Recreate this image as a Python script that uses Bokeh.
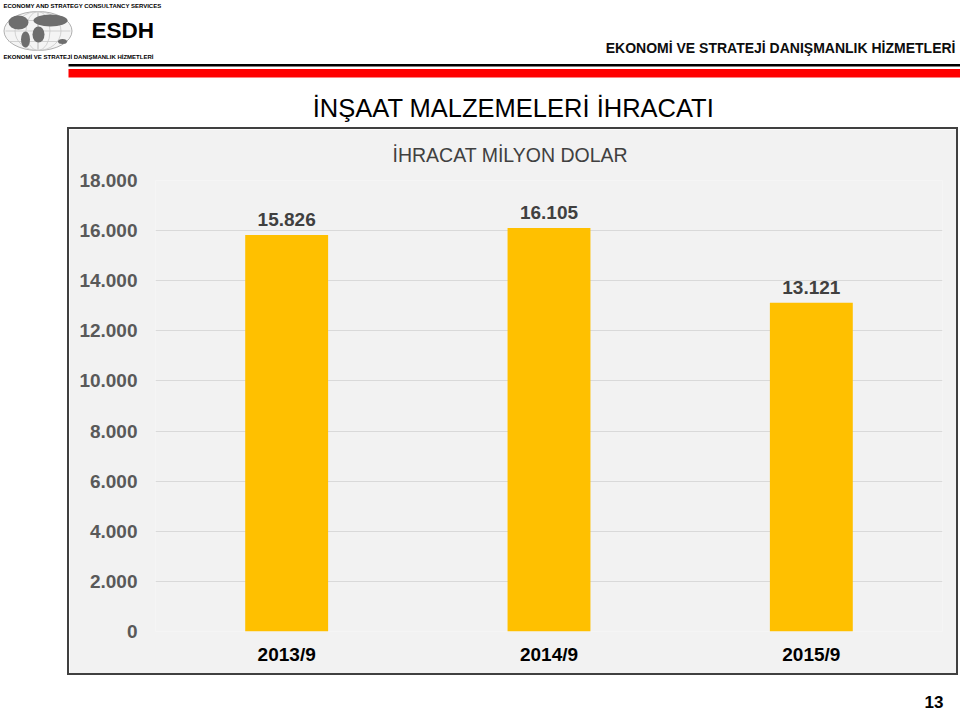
from bokeh.plotting import figure
from bokeh.layouts import column, row
from bokeh.models import (ColumnDataSource, LabelSet, FactorRange, Range1d, FixedTicker, Spacer)
from bokeh.core.properties import value
from bokeh.embed import file_html
from bokeh.resources import INLINE

# ---- data ----
categories = ["2013/9", "2014/9", "2015/9"]
values = [15826, 16105, 13121]
value_labels = ["15.826", "16.105", "13.121"]
y_ticks = [0, 2000, 4000, 6000, 8000, 10000, 12000, 14000, 16000, 18000]
y_tick_labels = ["0", "2.000", "4.000", "6.000", "8.000", "10.000", "12.000", "14.000", "16.000", "18.000"]

FONT = "Liberation Sans"
BORDER = "#404040"


def deco_figure(w, h):
    f = figure(width=w, height=h, x_range=Range1d(0, w), y_range=Range1d(h, 0),
               x_axis_type=None, y_axis_type=None, output_backend="svg",
               toolbar_location=None, min_border=0, outline_line_color=None,
               border_fill_color="white", background_fill_color="white")
    f.grid.visible = False
    return f


def put_text(f, x, y, t, size, style="normal", color="#000000", align="left", baseline="middle"):
    f.text(x=[x], y=[y], text=[t], text_font=value(FONT), text_font_size=value(size),
           text_font_style=value(style), text_color=color, text_align=align,
           text_baseline=baseline)


# ---------------- header ----------------
header = deco_figure(960, 127)
header.quad(left=[68], right=[960], top=[63.5], bottom=[66], fill_color="#000000", line_color=None)
header.quad(left=[68], right=[960], top=[68.5], bottom=[77], fill_color="#ff0000", line_color=None)
put_text(header, 955, 47, "EKONOMİ VE STRATEJİ DANIŞMANLIK HİZMETLERİ", "14px", "bold",
         "#0d0d0d", "right")
# logo
put_text(header, 3, 5, "ECONOMY  AND  STRATEGY CONSULTANCY SERVICES", "6px", "bold")
put_text(header, 91, 30, "ESDH", "22.5px", "bold")
put_text(header, 3, 56, "EKONOMİ   VE  STRATEJİ  DANIŞMANLIK  HİZMETLERİ", "6px", "bold")
header.ellipse(x=[37.5], y=[30.5], width=[68], height=[39], fill_color="#f4f4f4",
               line_color="#b0b0b0", line_width=1)
header.ellipse(x=[37.5, 37.5, 37.5], y=[30.5, 30.5, 30.5], width=[46, 24, 1], height=[39, 39, 39],
               fill_color=None, line_color="#c8c8c8", line_width=0.8)
header.segment(x0=[8, 5, 8], y0=[20, 30.5, 41], x1=[67, 70, 67], y1=[20, 30.5, 41],
               line_color="#c8c8c8", line_width=0.8)
header.ellipse(x=[18, 25, 50, 38, 62], y=[22, 39, 20, 34, 41], width=[20, 9, 34, 12, 9],
               height=[14, 16, 12, 16, 5], fill_color="#6e6e6e", line_color=None)
# main title
put_text(header, 513, 107, "İNŞAAT MALZEMELERİ İHRACATI", "25.5px", align="center")

# ---------------- chart ----------------
chart = figure(width=887, height=544,
               x_range=FactorRange(*categories, range_padding=0),
               y_range=Range1d(0, 18000),
               output_backend="svg", toolbar_location=None,
               min_border_left=86, min_border_right=14,
               min_border_top=51, min_border_bottom=42,
               border_fill_color="#f2f2f2", background_fill_color="#f2f2f2",
               outline_line_color=None, title="İHRACAT MİLYON DOLAR")
chart.title.text_font = FONT
chart.title.text_font_size = "19.5px"
chart.title.text_font_style = "normal"
chart.title.text_color = "#404040"
chart.title.align = "left"
chart.title.offset = 237
chart.title.vertical_align = "top"
chart.title.standoff = 26

src = ColumnDataSource(dict(cat=categories, val=values, lbl=value_labels))
chart.vbar(x="cat", top="val", width=0.316, source=src, fill_color="#ffc000", line_color=None)
chart.add_layout(LabelSet(x="cat", y="val", text="lbl", source=src, y_offset=9,
                          text_align="center", text_baseline="alphabetic",
                          text_font=value(FONT), text_font_size="19px", text_font_style="bold",
                          text_color="#404040"))

chart.xgrid.visible = False
chart.ygrid.ticker = FixedTicker(ticks=y_ticks)
chart.ygrid.grid_line_color = "#d9d9d9"
chart.ygrid.grid_line_width = 1

chart.yaxis.ticker = FixedTicker(ticks=y_ticks)
chart.yaxis.major_label_overrides = {t: l for t, l in zip(y_ticks, y_tick_labels)}
for ax in (chart.xaxis[0], chart.yaxis[0]):
    ax.axis_line_color = None
    ax.major_tick_line_color = None
    ax.minor_tick_line_color = None
    ax.major_tick_in = 0
    ax.major_tick_out = 0
    ax.minor_tick_in = 0
    ax.minor_tick_out = 0
    ax.major_label_text_font = FONT
    ax.major_label_text_font_size = "19px"
    ax.major_label_text_font_style = "bold"
chart.yaxis.major_label_standoff = 18
chart.yaxis.major_label_text_color = "#595959"
chart.xaxis.major_label_standoff = 12
chart.xaxis.major_label_text_color = "#000000"

# box border made of thin spacers
def hline():
    return Spacer(width=891, height=2, styles={"background-color": BORDER})

def vline():
    return Spacer(width=2, height=544, styles={"background-color": BORDER})

box = column(hline(), row(vline(), chart, vline()), hline())

# ---------------- footer ----------------
footer = deco_figure(960, 35)
put_text(footer, 943, 26, "13", "17px", "bold", "#000000", "right")

layout = column(header, row(Spacer(width=67, height=548), box), footer)

open("out.html", "w").write(file_html(layout, INLINE))
